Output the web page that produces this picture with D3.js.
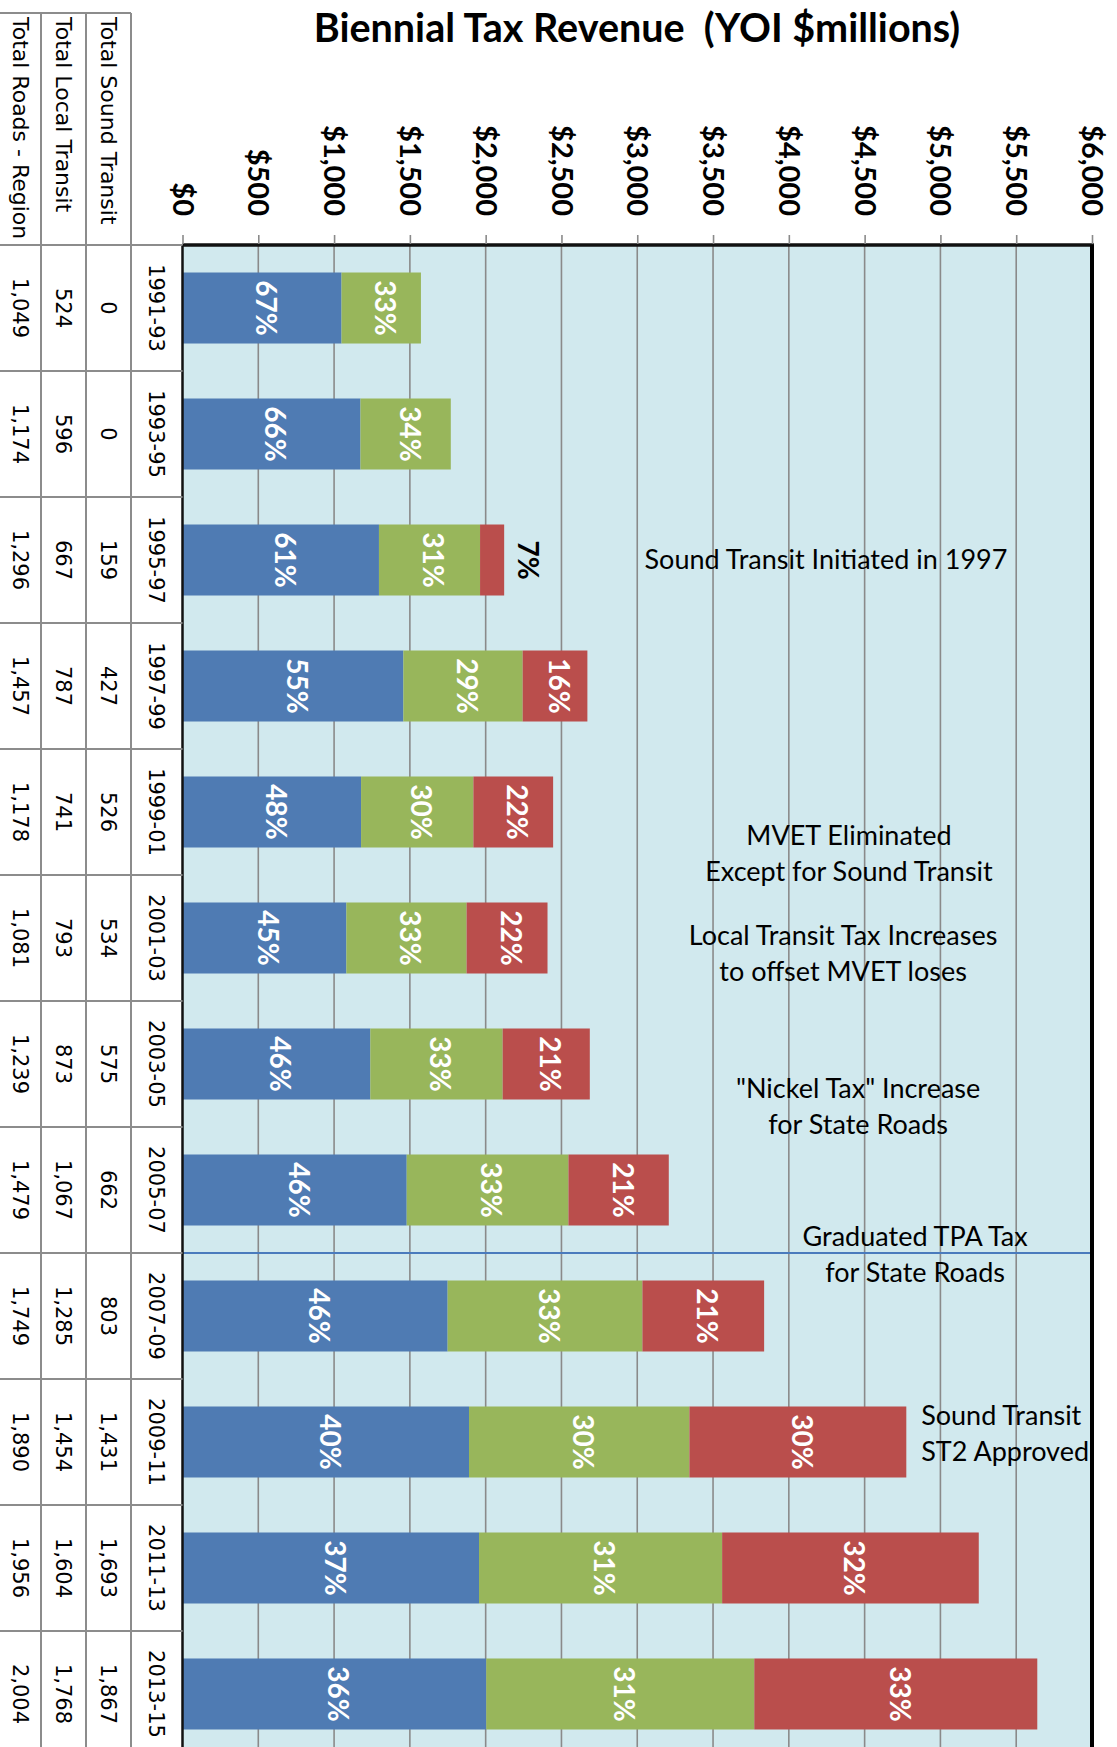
<!DOCTYPE html>
<html>
<head>
<meta charset="utf-8">
<script src="https://cdn.jsdelivr.net/npm/d3@7"></script>
<style>
  body { margin: 0; background: #fff; }
  svg { display: block; }
</style>
</head>
<body>
<svg id="chart" width="1117" height="1747"></svg>
<script>
// Biennial periods and revenue by source ($ millions)
const periods = ["1991-93", "1993-95", "1995-97", "1997-99", "1999-01", "2001-03",
  "2003-05", "2005-07", "2007-09", "2009-11", "2011-13", "2013-15"];
const roadsRegion = [1049, 1174, 1296, 1457, 1178, 1081, 1239, 1479, 1749, 1890, 1956, 2004];
const localTransit = [524, 596, 667, 787, 741, 793, 873, 1067, 1285, 1454, 1604, 1768];
const soundTransit = [0, 0, 159, 427, 526, 534, 575, 662, 803, 1431, 1693, 1867];

// share labels as printed on the bars
const roadsPct = [67, 66, 61, 55, 48, 45, 46, 46, 46, 40, 37, 36];
const localPct = [33, 34, 31, 29, 30, 33, 33, 33, 33, 30, 31, 31];
const soundPct = [null, null, 7, 16, 22, 22, 21, 21, 21, 30, 32, 33];

const tickValues = [0, 500, 1000, 1500, 2000, 2500, 3000, 3500, 4000, 4500, 5000, 5500, 6000];

// notes: x in $ millions, row = fractional period index
const notes = [
  { lines: ["Sound Transit Initiated in 1997"], value: 4245, row: 2.0, anchor: "middle" },
  { lines: ["MVET Eliminated", "Except for Sound Transit"], value: 4397, row: 4.33, anchor: "middle" },
  { lines: ["Local Transit Tax Increases", "to offset MVET loses"], value: 4358, row: 5.12, anchor: "middle" },
  { lines: ["\"Nickel Tax\" Increase", "for State Roads"], value: 4457, row: 6.34, anchor: "middle" },
  { lines: ["Graduated TPA Tax", "for State Roads"], value: 4833, row: 7.51, anchor: "middle" },
  { lines: ["Sound Transit", "ST2 Approved"], value: 4873, row: 8.93, anchor: "start" }
];
const markerAfter = "2005-07"; // blue line under this period

const series = [
  { key: "roads", label: "Total Roads - Region", values: roadsRegion, pct: roadsPct, color: "#4f7bb3" },
  { key: "local", label: "Total Local Transit", values: localTransit, pct: localPct, color: "#98b65b" },
  { key: "sound", label: "Total Sound Transit", values: soundTransit, pct: soundPct, color: "#ba4e4c" }
];

const W = 1117, H = 1747;
const plotTop = 245;
const svg = d3.select("#chart");

const x = d3.scaleLinear().domain([0, 6000]).range([182.5, 1092]);
const y = d3.scaleBand().domain(periods).range([plotTop, 1757])
  .paddingInner(0.4365).paddingOuter(0.2183);
const step = y.step();
const rowTop = (p) => y(p) - (step - y.bandwidth()) / 2;
const rowMid = (r) => plotTop + step * (r + 0.5);

// stacked rows
const rows = periods.map((p, i) => {
  let acc = 0;
  return series.map((s) => {
    const seg = { period: p, key: s.key, color: s.color, x0: acc, x1: acc + s.values[i], pct: s.pct[i] };
    acc += s.values[i];
    return seg;
  });
});

// plot background
svg.append("rect")
  .attr("x", x(0)).attr("y", plotTop)
  .attr("width", x(6000) - x(0)).attr("height", H - plotTop)
  .attr("fill", "#d1e9ee");

// gridlines
svg.append("g")
  .selectAll("line")
  .data(tickValues.slice(1, -1))
  .join("line")
  .attr("x1", d => x(d)).attr("x2", d => x(d))
  .attr("y1", plotTop).attr("y2", H)
  .attr("stroke", "#8a8a8a")
  .attr("stroke-width", 1.6);

// bars
const bar = svg.append("g")
  .selectAll("g")
  .data(rows)
  .join("g");

bar.selectAll("rect")
  .data(d => d.filter(s => s.x1 > s.x0))
  .join("rect")
  .attr("x", d => x(d.x0))
  .attr("y", d => y(d.period))
  .attr("width", d => x(d.x1) - x(d.x0))
  .attr("height", y.bandwidth())
  .attr("fill", d => d.color);

// percentage labels
bar.selectAll("text")
  .data(d => d.filter(s => s.pct != null))
  .join("text")
  .attr("transform", d => {
    const w = x(d.x1) - x(d.x0);
    const cx = w < 40 ? x(d.x1) + 24 : (x(d.x0) + x(d.x1)) / 2 + 4;
    return `translate(${cx},${y(d.period) + y.bandwidth() / 2}) rotate(90)`;
  })
  .attr("text-anchor", "middle")
  .attr("dy", "0.36em")
  .attr("font-family", "Lato, 'Open Sans', sans-serif")
  .attr("font-weight", "bold")
  .attr("font-size", 28)
  .attr("fill", d => (x(d.x1) - x(d.x0) < 40 ? "#000" : "#fff"))
  .text(d => d.pct + "%");

// notes
const note = svg.append("g")
  .attr("font-family", "Lato, 'Open Sans', sans-serif")
  .attr("font-size", 27)
  .attr("fill", "#000");

notes.forEach((n) => {
  const y0 = rowMid(n.row) - (n.lines.length - 1) * 18;
  n.lines.forEach((line, j) => {
    note.append("text")
      .attr("x", x(n.value))
      .attr("y", y0 + j * 36)
      .attr("dy", "0.35em")
      .attr("text-anchor", n.anchor)
      .style("white-space", "pre")
      .text(line);
  });
});

// TPA divider line
const lineY = rowTop(markerAfter) + step;
svg.append("line")
  .attr("x1", x(0) - 6).attr("x2", x(6000))
  .attr("y1", lineY).attr("y2", lineY)
  .attr("stroke", "#4a7bbd")
  .attr("stroke-width", 2);

// plot frame
svg.append("line")
  .attr("x1", x(0)).attr("x2", x(6000) + 2)
  .attr("y1", plotTop).attr("y2", plotTop)
  .attr("stroke", "#111").attr("stroke-width", 3.5);
svg.append("line")
  .attr("x1", x(0)).attr("x2", x(0))
  .attr("y1", plotTop).attr("y2", H)
  .attr("stroke", "#111").attr("stroke-width", 2.5);
svg.append("line")
  .attr("x1", x(6000)).attr("x2", x(6000))
  .attr("y1", plotTop).attr("y2", H)
  .attr("stroke", "#000").attr("stroke-width", 4);

// value axis on top
const axis = svg.append("g")
  .attr("transform", `translate(0,${plotTop - 1})`)
  .call(d3.axisTop(x)
    .tickValues(tickValues)
    .tickSize(9)
    .tickFormat(d => "$" + d3.format(",")(d)));
axis.select(".domain").remove();
axis.selectAll(".tick line").attr("stroke", "#8a8a8a").attr("stroke-width", 1.6);
axis.selectAll(".tick text")
  .attr("x", null).attr("y", null).attr("dy", "0.36em")
  .attr("transform", "translate(0,-28) rotate(90)")
  .attr("text-anchor", "end")
  .attr("font-family", "Lato, 'Open Sans', sans-serif")
  .attr("font-weight", "bold")
  .attr("font-size", 29)
  .attr("fill", "#000");

// data table on the left
const cols = [
  { s: series[0], x0: 0, x1: 41 },
  { s: series[1], x0: 41, x1: 86 },
  { s: series[2], x0: 86, x1: 131 }
];
const table = svg.append("g")
  .attr("font-family", "'DejaVu Sans', sans-serif")
  .attr("font-size", 21)
  .attr("fill", "#000");
const gridColor = "#8c8c8c";

// header frame
table.append("line")
  .attr("x1", 0).attr("x2", 131).attr("y1", 13).attr("y2", 13)
  .attr("stroke", gridColor).attr("stroke-width", 2);
[41, 86, 131].forEach((cx) => {
  table.append("line")
    .attr("x1", cx).attr("x2", cx).attr("y1", 13).attr("y2", H)
    .attr("stroke", gridColor).attr("stroke-width", 2);
});
// row separators
d3.range(periods.length + 1).forEach((i) => {
  const yy = plotTop + i * step;
  table.append("line")
    .attr("x1", 0).attr("x2", x(0)).attr("y1", yy).attr("y2", yy)
    .attr("stroke", gridColor).attr("stroke-width", 2);
});

cols.forEach((c) => {
  const cx = (c.x0 + c.x1) / 2;
  table.append("text")
    .attr("transform", `translate(${cx},17) rotate(90)`)
    .attr("dy", "0.36em")
    .attr("text-anchor", "start")
    .attr("font-size", 22)
    .text(c.s.label);
  table.selectAll(null)
    .data(periods)
    .join("text")
    .attr("transform", (p, i) => `translate(${cx},${y(p) + y.bandwidth() / 2}) rotate(90)`)
    .attr("dy", "0.36em")
    .attr("text-anchor", "middle")
    .text((p, i) => d3.format(",")(c.s.values[i]));
});

// period labels
table.selectAll(null)
  .data(periods)
  .join("text")
  .attr("transform", p => `translate(${(131 + x(0)) / 2},${y(p) + y.bandwidth() / 2}) rotate(90)`)
  .attr("dy", "0.36em")
  .attr("text-anchor", "middle")
  .text(p => p);

// title
svg.append("text")
  .attr("x", 637)
  .attr("y", 42)
  .attr("text-anchor", "middle")
  .attr("font-family", "Lato, 'Open Sans', sans-serif")
  .attr("font-weight", "bold")
  .attr("font-size", 39.5)
  .style("white-space", "pre")
  .text("Biennial Tax Revenue  (YOI $millions)");
</script>
</body>
</html>
